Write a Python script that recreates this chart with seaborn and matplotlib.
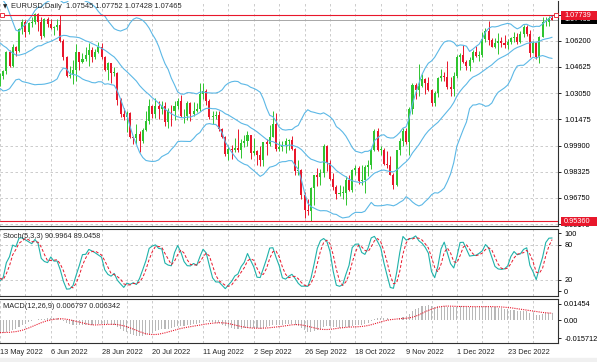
import matplotlib
matplotlib.use('Agg')
import matplotlib.pyplot as plt
from matplotlib.patches import Rectangle
import seaborn as sns
import pandas as pd
import numpy as np

sns.set_style('white')
plt.rcParams['font.family'] = ['Liberation Sans', 'DejaVu Sans']
plt.rcParams['font.size'] = 5.3

# bars before the first visible one (1 Mar - 12 May 2022), only used to warm up the indicators
hist_open = [1.1220, 1.1125, 1.1120, 1.1065, 1.0930, 1.0855, 1.0905, 1.1075, 1.0985, 1.0910, 1.0945, 1.0955,
             1.1030, 1.1095, 1.1050, 1.1015, 1.1030, 1.1005, 1.0995, 1.0985, 1.0985, 1.1090, 1.1160,
             1.1065, 1.1045, 1.0970, 1.0905, 1.0900, 1.0880, 1.0875, 1.0885, 1.0830, 1.0890, 1.0825,
             1.0810, 1.0780, 1.0790, 1.0855, 1.0840, 1.0795, 1.0715, 1.0635, 1.0560, 1.0500,
             1.0545, 1.0505, 1.0525, 1.0620, 1.0540, 1.0550, 1.0560, 1.0530, 1.0515]
hist_high = [1.1235, 1.1155, 1.1125, 1.1070, 1.0950, 1.0935, 1.1080, 1.1120, 1.1040, 1.0985, 1.1000, 1.1045,
             1.1135, 1.1095, 1.1070, 1.1070, 1.1040, 1.1020, 1.1035, 1.0995, 1.1135, 1.1185, 1.1170,
             1.1075, 1.1055, 1.0990, 1.0940, 1.0935, 1.0890, 1.0930, 1.0905, 1.0905, 1.0925, 1.0845,
             1.0820, 1.0815, 1.0870, 1.0936, 1.0860, 1.0800, 1.0720, 1.0650, 1.0570, 1.0595,
             1.0565, 1.0580, 1.0625, 1.0640, 1.0595, 1.0595, 1.0580, 1.0575, 1.0520]
hist_low = [1.1105, 1.1055, 1.1035, 1.0890, 1.0806, 1.0830, 1.0900, 1.0975, 1.0905, 1.0905, 1.0935, 1.0945,
            1.1005, 1.1000, 1.0995, 1.0995, 1.0965, 1.0965, 1.0965, 1.0945, 1.0985, 1.1070, 1.1055,
            1.1030, 1.0965, 1.0900, 1.0885, 1.0870, 1.0835, 1.0865, 1.0820, 1.0805, 1.0755, 1.0800,
            1.0760, 1.0760, 1.0780, 1.0825, 1.0770, 1.0695, 1.0630, 1.0515, 1.0470, 1.0495,
            1.0490, 1.0490, 1.0505, 1.0495, 1.0485, 1.0525, 1.0520, 1.0505, 1.0355]
hist_close = [1.1125, 1.1120, 1.1065, 1.0930, 1.0855, 1.0905, 1.1075, 1.0985, 1.0910, 1.0945, 1.0955, 1.1030,
              1.1095, 1.1050, 1.1015, 1.1030, 1.1005, 1.0995, 1.0985, 1.0985, 1.1090, 1.1160, 1.1065,
              1.1045, 1.0970, 1.0905, 1.0900, 1.0880, 1.0875, 1.0885, 1.0830, 1.0890, 1.0825, 1.0810,
              1.0780, 1.0790, 1.0855, 1.0840, 1.0795, 1.0715, 1.0635, 1.0560, 1.0500, 1.0545,
              1.0505, 1.0525, 1.0620, 1.0540, 1.0550, 1.0560, 1.0530, 1.0515, 1.0380]

# visible daily bars, 13 May 2022 -> 12 Jan 2023
bar_open = [1.0380, 1.0410, 1.0435, 1.0550, 1.0465, 1.0585, 1.0560, 1.0690, 1.0735, 1.0675,
            1.0725, 1.0735, 1.0780, 1.0735, 1.0650, 1.0750, 1.0720, 1.0695, 1.0705, 1.0715,
            1.0617, 1.0520, 1.0410, 1.0415, 1.0445, 1.0550, 1.0495, 1.0510, 1.0535, 1.0565,
            1.0520, 1.0555, 1.0585, 1.0520, 1.0445, 1.0485, 1.0425, 1.0425, 1.0265, 1.0180,
            1.0160, 1.0185, 1.0040, 1.0035, 1.0060, 1.0020, 1.0085, 1.0140, 1.0225, 1.0180,
            1.0230, 1.0210, 1.0225, 1.0130, 1.0200, 1.0195, 1.0225, 1.0260, 1.0165, 1.0165,
            1.0245, 1.0180, 1.0195, 1.0210, 1.0300, 1.0320, 1.0260, 1.0160, 1.0170, 1.0175,
            1.0090, 1.0040, 0.9940, 0.9970, 0.9965, 0.9975, 0.9965, 1.0005, 1.0020, 1.0055,
            0.9945, 0.9955, 0.9930, 0.9905, 1.0010, 1.0000, 1.0040, 1.0120, 0.9970, 0.9980,
            0.9995, 1.0015, 1.0025, 0.9970, 0.9835, 0.9840, 0.9690, 0.9605, 0.9595, 0.9735,
            0.9815, 0.9800, 0.9825, 0.9985, 0.9885, 0.9790, 0.9740, 0.9700, 0.9705, 0.9705,
            0.9780, 0.9720, 0.9840, 0.9855, 0.9775, 0.9780, 0.9860, 0.9875, 0.9965, 1.0080,
            0.9965, 0.9965, 0.9880, 0.9875, 0.9815, 0.9750, 0.9960, 1.0020, 1.0075, 1.0010,
            1.0210, 1.0355, 1.0325, 1.0350, 1.0390, 1.0365, 1.0325, 1.0245, 1.0305, 1.0395,
            1.0410, 1.0400, 1.0340, 1.0330, 1.0405, 1.0525, 1.0535, 1.0490, 1.0470, 1.0505,
            1.0555, 1.0530, 1.0535, 1.0630, 1.0680, 1.0625, 1.0585, 1.0605, 1.0620, 1.0605,
            1.0595, 1.0615, 1.0635, 1.0640, 1.0610, 1.0660, 1.0705, 1.0660, 1.0545, 1.0605,
            1.0520, 1.0645, 1.0730, 1.0735, 1.07545]
bar_high = [1.0425, 1.0445, 1.0560, 1.0565, 1.0600, 1.0590, 1.0695, 1.0750, 1.0745, 1.0730,
            1.0765, 1.0787, 1.0785, 1.0765, 1.0755, 1.0765, 1.0750, 1.0710, 1.0750, 1.0774,
            1.0630, 1.0530, 1.0470, 1.0505, 1.0601, 1.0555, 1.0545, 1.0583, 1.0605, 1.0580,
            1.0570, 1.0615, 1.0606, 1.0530, 1.0490, 1.0486, 1.0460, 1.0430, 1.0275, 1.0215,
            1.0200, 1.0190, 1.0050, 1.0120, 1.0075, 1.0095, 1.0200, 1.0269, 1.0235, 1.0278,
            1.0255, 1.0255, 1.0250, 1.0215, 1.0235, 1.0255, 1.0275, 1.0295, 1.0210, 1.0255,
            1.0250, 1.0250, 1.0245, 1.0368, 1.0365, 1.0330, 1.0270, 1.0200, 1.0200, 1.0200,
            1.0095, 1.0045, 0.9995, 0.9995, 1.0035, 1.0090, 1.0030, 1.0055, 1.0080, 1.0055,
            1.0035, 0.9965, 0.9990, 1.0010, 1.0030, 1.0115, 1.0197, 1.0185, 1.0020, 1.0015,
            1.0035, 1.0030, 1.0050, 0.9975, 0.9905, 0.9850, 0.9710, 0.9670, 0.9740, 0.9815,
            0.9855, 0.9850, 0.9999, 0.9995, 0.9905, 0.9825, 0.9750, 0.9750, 0.9745, 0.9808,
            0.9810, 0.9850, 0.9875, 0.9865, 0.9875, 0.9870, 0.9900, 0.9975, 1.0090, 1.0093,
            0.9985, 0.9975, 0.9955, 0.9925, 0.9825, 0.9965, 1.0035, 1.0095, 1.0095, 1.0220,
            1.0365, 1.0365, 1.0480, 1.0420, 1.0395, 1.0400, 1.0330, 1.0320, 1.0400, 1.0450,
            1.0430, 1.0497, 1.0400, 1.0430, 1.0535, 1.0545, 1.0594, 1.0505, 1.0525, 1.0565,
            1.0590, 1.0560, 1.0673, 1.0695, 1.0736, 1.0635, 1.0635, 1.0665, 1.0640, 1.0655,
            1.0630, 1.0645, 1.0670, 1.0665, 1.0680, 1.0715, 1.0715, 1.0685, 1.0620, 1.0615,
            1.0650, 1.0760, 1.0760, 1.0770, 1.07752]
bar_low = [1.0350, 1.0390, 1.0420, 1.0460, 1.0460, 1.0530, 1.0550, 1.0660, 1.0640, 1.0660,
           1.0700, 1.0720, 1.0680, 1.0628, 1.0640, 1.0705, 1.0690, 1.0655, 1.0685, 1.0612,
           1.0505, 1.0400, 1.0397, 1.0359, 1.0380, 1.0445, 1.0485, 1.0500, 1.0470, 1.0490,
           1.0510, 1.0545, 1.0510, 1.0435, 1.0382, 1.0365, 1.0405, 1.0235, 1.0160, 1.0145,
           1.0070, 1.0035, 0.9998, 0.9998, 0.9952, 1.0005, 1.0080, 1.0120, 1.0155, 1.0155,
           1.0150, 1.0180, 1.0110, 1.0095, 1.0110, 1.0145, 1.0210, 1.0160, 1.0125, 1.0145,
           1.0140, 1.0165, 1.0190, 1.0200, 1.0270, 1.0235, 1.0150, 1.0120, 1.0150, 1.0075,
           1.0035, 0.9925, 0.9900, 0.9910, 0.9950, 0.9950, 0.9915, 0.9980, 0.9985, 0.9910,
           0.9935, 0.9875, 0.9865, 0.9865, 0.9930, 0.9990, 1.0040, 0.9955, 0.9955, 0.9955,
           0.9945, 0.9965, 0.9965, 0.9810, 0.9810, 0.9670, 0.9555, 0.9570, 0.9536, 0.9635,
           0.9745, 0.9750, 0.9800, 0.9835, 0.9780, 0.9725, 0.9670, 0.9685, 0.9670, 0.9632,
           0.9715, 0.9710, 0.9810, 0.9760, 0.9750, 0.9705, 0.9805, 0.9850, 0.9955, 0.9955,
           0.9930, 0.9870, 0.9855, 0.9815, 0.9730, 0.9745, 0.9935, 0.9990, 1.0000, 0.9935,
           1.0180, 1.0270, 1.0285, 1.0340, 1.0300, 1.0315, 1.0225, 1.0225, 1.0280, 1.0380,
           1.0375, 1.0330, 1.0290, 1.0290, 1.0395, 1.0445, 1.0485, 1.0445, 1.0440, 1.0495,
           1.0520, 1.0500, 1.0520, 1.0610, 1.0595, 1.0580, 1.0575, 1.0540, 1.0580, 1.0575,
           1.0570, 1.0600, 1.0615, 1.0600, 1.0605, 1.0640, 1.0650, 1.0520, 1.0545, 1.0510,
           1.0483, 1.0640, 1.0710, 1.0710, 1.07428]
bar_close = [1.0410, 1.0435, 1.0550, 1.0465, 1.0585, 1.0560, 1.0690, 1.0735, 1.0675, 1.0725,
             1.0735, 1.0780, 1.0735, 1.0650, 1.0750, 1.0720, 1.0695, 1.0705, 1.0715, 1.0617,
             1.0520, 1.0410, 1.0415, 1.0445, 1.0550, 1.0495, 1.0510, 1.0535, 1.0565, 1.0520,
             1.0555, 1.0585, 1.0520, 1.0445, 1.0485, 1.0425, 1.0425, 1.0265, 1.0180, 1.0160,
             1.0185, 1.0040, 1.0035, 1.0060, 1.0020, 1.0085, 1.0140, 1.0225, 1.0180, 1.0230,
             1.0210, 1.0225, 1.0130, 1.0200, 1.0195, 1.0225, 1.0260, 1.0165, 1.0165, 1.0245,
             1.0180, 1.0195, 1.0210, 1.0300, 1.0320, 1.0260, 1.0160, 1.0170, 1.0175, 1.0090,
             1.0040, 0.9940, 0.9970, 0.9965, 0.9975, 0.9965, 1.0005, 1.0020, 1.0055, 0.9945,
             0.9955, 0.9930, 0.9905, 1.0010, 1.0000, 1.0040, 1.0120, 0.9970, 0.9980, 0.9995,
             1.0015, 1.0025, 0.9970, 0.9835, 0.9840, 0.9690, 0.9605, 0.9595, 0.9735, 0.9815,
             0.9800, 0.9825, 0.9985, 0.9885, 0.9790, 0.9740, 0.9700, 0.9705, 0.9705, 0.9780,
             0.9720, 0.9840, 0.9855, 0.9775, 0.9780, 0.9860, 0.9875, 0.9965, 1.0080, 0.9965,
             0.9965, 0.9880, 0.9875, 0.9815, 0.9750, 0.9960, 1.0020, 1.0075, 1.0010, 1.0210,
             1.0355, 1.0325, 1.0350, 1.0390, 1.0365, 1.0325, 1.0245, 1.0305, 1.0395, 1.0410,
             1.0400, 1.0340, 1.0330, 1.0405, 1.0525, 1.0535, 1.0490, 1.0470, 1.0505, 1.0555,
             1.0530, 1.0535, 1.0630, 1.0680, 1.0625, 1.0585, 1.0605, 1.0620, 1.0605, 1.0595,
             1.0615, 1.0635, 1.0640, 1.0610, 1.0660, 1.0705, 1.0660, 1.0545, 1.0605, 1.0520,
             1.0645, 1.0730, 1.0735, 1.07545, 1.07465]

price_ticks = [1.07775, 1.06200, 1.04625, 1.03050, 1.01475, 0.99900, 0.98325, 0.96750, 0.95175]
price_tick_labels = ['', '1.06200', '1.04625', '1.03050', '1.01475', '0.99900', '0.98325', '0.96750', '0.95175']
stoch_ticks = [0, 20, 80, 100]
macd_ticks = [-0.015712, 0.0, 0.01454]
macd_tick_labels = ['-0.015712', '0.00', '0.01454']
hline_high, hline_low = 1.07739, 0.95360
bid_price = 1.07465
# indicator readings printed in the window headers
stoch_readout = ['90.9964', '89.0458']
macd_readout = ['0.006797', '0.006342']

GREEN, RED = '#2fc42f', '#e8172b'
BAND = '#5cb8e6'
GRID = '#c4c4c4'

n_hist = len(hist_close)
df = pd.DataFrame({'open': hist_open + bar_open, 'high': hist_high + bar_high,
                   'low': hist_low + bar_low, 'close': hist_close + bar_close},
                  index=pd.bdate_range('2022-03-01', periods=n_hist + len(bar_close)))

# Bollinger(20, 2)
mid = df['close'].rolling(20).mean()
sd = df['close'].rolling(20).std(ddof=0)
df['bb_mid'], df['bb_up'], df['bb_lo'] = mid, mid + 2 * sd, mid - 2 * sd
# MACD(12,26,9) as in MT4: histogram = main, signal = SMA of main
df['macd'] = df['close'].ewm(span=12, adjust=False).mean() - df['close'].ewm(span=26, adjust=False).mean()
df['signal'] = df['macd'].rolling(9).mean()
# Stochastic(5,3,3)
hh = df['high'].rolling(5).max()
ll = df['low'].rolling(5).min()
df['k'] = 100 * (df['close'] - ll).rolling(3).sum() / (hh - ll).rolling(3).sum()
df['d'] = df['k'].rolling(3).mean()

vis = df.iloc[n_hist:].copy()
vis['x'] = np.arange(len(vis))
up = vis['close'] >= vis['open']

W, H = 597, 362
fig = plt.figure(figsize=(W / 100, H / 100), dpi=100)


def px_axes(l, t, r, b):
    return fig.add_axes([l / W, 1 - b / H, (r - l) / W, (b - t) / H])


ax = px_axes(0, 1, 558, 226)
ax_st = px_axes(0, 228.5, 558, 296)
ax_m = px_axes(0, 298.5, 558, 343)

xmax = 558 / 3.173
for a in (ax, ax_st, ax_m):
    a.set_xlim(0, xmax)
    a.set_xticks(vis['x'][::16])
    a.set_xticks(vis['x'][8::16], minor=True)
    a.grid(axis='x', which='both', color=GRID, lw=0.6, ls=(0, (3, 3)))
    a.yaxis.tick_right()
    a.tick_params(axis='y', length=2, width=0.6, pad=2.5, labelsize=5.3, colors='black')
    a.tick_params(axis='x', which='both', length=0)
    for s in a.spines.values():
        s.set_color('#303030')
        s.set_linewidth(0.8)
    a.spines['left'].set_visible(False)
    a.set_axisbelow(True)
ax.spines['top'].set_visible(False)

# ---- price window
ax.set_ylim(0.95061, 1.08587)
ax.set_yticks(price_ticks)
ax.set_yticklabels(price_tick_labels)
ax.grid(axis='y', color=GRID, lw=0.6, ls=(0, (3, 3)))
ax.set_xticklabels([])

cols = np.where(up, GREEN, RED)
ax.vlines(vis['x'], vis['low'], vis['high'], colors=cols, lw=0.7, zorder=2)
body = np.maximum((vis['close'] - vis['open']).abs(), 0.0004)
ax.bar(vis['x'], body, bottom=np.minimum(vis['open'], vis['close']), width=0.64,
       color=cols, linewidth=0, zorder=2)

for c in ['bb_up', 'bb_mid', 'bb_lo']:
    sns.lineplot(data=vis, x='x', y=c, ax=ax, color=BAND, lw=0.8, zorder=3)
ax.set_xlabel('')
ax.set_ylabel('')

ax.axhline(bid_price, color='#a8a8a8', lw=0.7, zorder=1.5)
ax.axhline(hline_high, color=RED, lw=0.8, zorder=4)
ax.axhline(hline_low, color=RED, lw=0.8, zorder=4)
ax.plot([0.6, xmax - 0.5], [hline_high, hline_high], ls='none', marker='s', ms=2.6,
        mfc='white', mec=RED, mew=0.6, zorder=5, clip_on=False)

# price labels in boxes on the right scale
ytr = ax.get_yaxis_transform()
lo, hi = ax.get_ylim()
box_h = 9 * (hi - lo) / 225  # about 9 px tall
for price, colour, z in [(bid_price, 'black', 6), (hline_high, RED, 7), (hline_low, RED, 7)]:
    ax.add_patch(Rectangle((1.005, price - box_h / 2), 0.07, box_h, transform=ytr, fc=colour, ec='none',
                           zorder=z, clip_on=False))
    ax.text(1.011, price, f'{price:.5f}', transform=ytr, color='white', va='center', ha='left',
            fontsize=5.3, zorder=z + 0.5)

last = vis.iloc[-1]
fig.text(3 / W, 1 - 6.5 / H, '\u25bc', fontsize=4, va='center', family=['DejaVu Sans'])
fig.text(11 / W, 1 - 6.5 / H,
         f"EURUSD,Daily  {last['open']:.5f} {last['high']:.5f} {last['low']:.5f} {last['close']:.5f}",
         fontsize=5.4, va='center')

# ---- stochastic window
ax_st.set_ylim(-8.1, 108.3)
ax_st.set_yticks(stoch_ticks)
ax_st.set_yticklabels([str(v) for v in stoch_ticks])
for lvl in (20, 80):
    ax_st.axhline(lvl, color=GRID, lw=0.6, ls=(0, (3, 3)), zorder=1)
sns.lineplot(data=vis, x='x', y='k', ax=ax_st, color='#20b2aa', lw=0.8, zorder=3)
sns.lineplot(data=vis, x='x', y='d', ax=ax_st, color=RED, lw=0.7, ls=(0, (3, 2)), zorder=4)
ax_st.set_xlabel('')
ax_st.set_ylabel('')
ax_st.set_xticklabels([])
ax_st.text(0.006, 0.88, f"Stoch(5,3,3) {stoch_readout[0]} {stoch_readout[1]}", transform=ax_st.transAxes,
           fontsize=5.3, va='center')

# ---- MACD window
ax_m.set_ylim(-0.02016, 0.01943)
ax_m.set_yticks(macd_ticks)
ax_m.set_yticklabels(macd_tick_labels)
ax_m.bar(vis['x'], vis['macd'], width=0.34, color='#b8b8b8', linewidth=0, zorder=2)
sns.lineplot(data=vis, x='x', y='signal', ax=ax_m, color=RED, lw=0.8, ls=(0, (1, 1)), zorder=3)
ax_m.set_xlabel('')
ax_m.set_ylabel('')
ax_m.text(0.006, 0.83, f"MACD(12,26,9) {macd_readout[0]} {macd_readout[1]}", transform=ax_m.transAxes,
          fontsize=5.3, va='center')

ax_m.tick_params(axis='x', which='major', length=3, width=0.6, pad=1.5, labelsize=5.3)
ax_m.tick_params(axis='x', which='minor', length=1.5, width=0.6)
ax_m.set_xticklabels([f"{d.day} {d.strftime('%b %Y')}" for d in vis.index[::16]])
for lbl in ax_m.get_xticklabels():
    lbl.set_horizontalalignment('left')

fig.patches.append(Rectangle((0, 0), 1, 4 / H, transform=fig.transFigure, color='#f0f0f0', zorder=0))

fig.savefig('out.png', dpi=100, facecolor='white')
